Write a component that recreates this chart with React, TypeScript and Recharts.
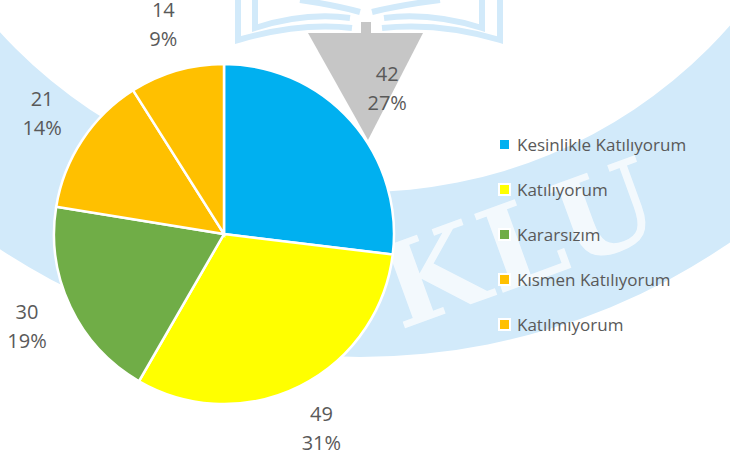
import { Legend, Pie, PieChart, Cell } from 'recharts'

const categories = [
  'Kesinlikle Katılıyorum',
  'Katılıyorum',
  'Kararsızım',
  'Kısmen Katılıyorum',
  'Katılmıyorum',
]
const counts = [42, 49, 30, 21, 14]
const percentLabels = ['27%', '31%', '19%', '14%', '9%']
const colors = ['#00B0F0', '#FFFF00', '#70AD47', '#FFC000', '#FFC000']

const data = categories.map((name, i) => ({ name, value: counts[i], pct: percentLabels[i] }))

const FONT = '"Open Sans", "Noto Sans", sans-serif'
const TEXT = '#595959'
const RAD = Math.PI / 180

function renderLabel(props: any) {
  const { cx, cy, midAngle, outerRadius, value, payload } = props
  const r = outerRadius + 48
  const x = cx + r * Math.cos(-midAngle * RAD)
  const y = cy + r * Math.sin(-midAngle * RAD)
  return (
    <text x={x} y={y} textAnchor="middle" fill={TEXT} fontSize={20} fontFamily={FONT}>
      <tspan x={x} dy="-0.4em">{value}</tspan>
      <tspan x={x} dy="1.45em">{payload.pct}</tspan>
    </text>
  )
}

// keep the legend in data order (recharts sorts by default)
function renderLegend() {
  return (
    <div style={{ fontFamily: FONT, fontSize: 17, color: TEXT }}>
      {categories.map((name, i) => (
        <div key={name} style={{ display: 'flex', alignItems: 'center', height: 45 }}>
          <span
            style={{
              width: 9,
              height: 9,
              background: colors[i],
              boxShadow: '0 0 0 2px #fff',
              marginRight: 8,
              display: 'inline-block',
            }}
          />
          <span style={{ whiteSpace: 'nowrap' }}>{name}</span>
        </div>
      ))}
    </div>
  )
}

// faint logo watermark behind the chart
function Watermark() {
  const wm = '#D2EAFA'
  return (
    <svg width={730} height={459} style={{ position: 'absolute', left: 0, top: 0 }}>
      <path
        d="M 360 -298 m -655 0 a 655 655 0 1 0 1310 0 a 655 655 0 1 0 -1310 0 Z M 362 -298 m -490 0 a 490 490 0 1 1 980 0 a 490 490 0 1 1 -980 0 Z"
        fill={wm}
        fillRule="evenodd"
      />
      <text
        x={400}
        y={330}
        fontSize={115}
        fontWeight="bold"
        fontFamily="DejaVu Serif"
        fill="#FFFFFF"
        opacity={0.75}
        letterSpacing={4}
        transform="rotate(-20 400 330)"
      >
        KLU
      </text>
      <g stroke={wm} strokeWidth={6} fill="none">
        <path d="M 238 0 L 238 40 Q 300 22 352 28" />
        <path d="M 255 0 L 255 28 Q 305 12 350 18" />
        <path d="M 500 0 L 500 40 Q 440 22 382 28" />
        <path d="M 482 0 L 482 28 Q 430 12 384 18" />
        <path d="M 300 0 Q 335 5 360 12" />
        <path d="M 440 0 Q 400 5 372 12" />
      </g>
      <polygon points="308,33 423,33 368,140" fill="#C6C6C6" />
      <rect x={361} y={22} width={10} height={12} fill="#C6C6C6" />
    </svg>
  )
}

export default function App() {
  return (
    <div style={{ position: 'absolute', left: 0, top: 0, width: 730, height: 459, background: '#fff' }}>
      <Watermark />
      <div style={{ position: 'absolute', left: 0, top: 0 }}>
        <PieChart width={730} height={459} margin={{ top: 0, right: 0, bottom: 0, left: 0 }}>
          <Pie
            data={data}
            dataKey="value"
            nameKey="name"
            cx={224}
            cy={234}
            outerRadius={170}
            startAngle={90}
            endAngle={-270}
            stroke="#FFFFFF"
            strokeWidth={2.5}
            label={renderLabel}
            labelLine={false}
            isAnimationActive={false}
          >
            {data.map((d, i) => (
              <Cell key={d.name} fill={colors[i]} />
            ))}
          </Pie>
          <Legend
            layout="vertical"
            align="right"
            verticalAlign="top"
            content={renderLegend}
            wrapperStyle={{ left: 500, top: 122, width: 230 }}
          />
        </PieChart>
      </div>
    </div>
  )
}
